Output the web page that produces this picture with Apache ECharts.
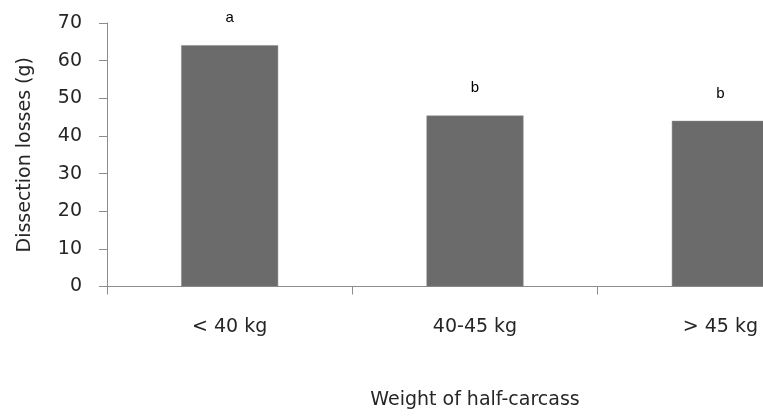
<!DOCTYPE html>
<html>
<head>
<meta charset="utf-8">
<script src="https://cdn.jsdelivr.net/npm/echarts@6/dist/echarts.min.js"></script>
<style>
html,body{margin:0;padding:0;background:#fff;overflow:hidden;width:763px;height:417px;}
#chart{width:850px;height:417px;}
</style>
</head>
<body>
<div id="chart"></div>
<script>
var categories = ['< 40 kg', '40-45 kg', '> 45 kg'];
var values = [64.1, 45.4, 44.0];
var letters = ['a', 'b', 'b'];
var yTicks = [0, 10, 20, 30, 40, 50, 60, 70];

var chart = echarts.init(document.getElementById('chart'), null, {renderer: 'canvas'});
var font = 'DejaVu Sans';
chart.setOption({
  animation: false,
  backgroundColor: '#ffffff',
  grid: {left: 107, top: 23, bottom: 130.5, right: 7, containLabel: false},
  xAxis: {
    type: 'category',
    data: categories,
    boundaryGap: true,
    axisLine: {show: true, lineStyle: {color: '#8c8c8c', width: 1}},
    axisTick: {show: true, length: 8, lineStyle: {color: '#8c8c8c'}},
    axisLabel: {margin: 31, fontSize: 19, fontFamily: font, color: '#262626'},
    name: 'Weight of half-carcass',
    nameLocation: 'middle',
    nameGap: 104,
    nameTextStyle: {fontSize: 19, fontFamily: font, color: '#262626'}
  },
  yAxis: {
    type: 'value',
    min: yTicks[0],
    max: yTicks[yTicks.length - 1],
    interval: yTicks[1] - yTicks[0],
    splitLine: {show: false},
    axisLine: {show: true, lineStyle: {color: '#8c8c8c', width: 1}},
    axisTick: {show: true, length: 8, lineStyle: {color: '#8c8c8c'}},
    axisLabel: {margin: 25, fontSize: 19, fontFamily: font, color: '#262626'},
    name: 'Dissection losses (g)',
    nameLocation: 'middle',
    nameGap: 72,
    nameRotate: 90,
    nameTextStyle: {fontSize: 19, fontFamily: font, color: '#262626'}
  },
  series: [{
    type: 'bar',
    data: values,
    barWidth: 97,
    itemStyle: {color: '#6b6b6b', borderColor: '#8a8a8a', borderWidth: 0.5},
    label: {
      show: true,
      position: 'top',
      distance: 20,
      fontSize: 15,
      fontFamily: 'Liberation Sans',
      color: '#000',
      formatter: function (p) { return letters[p.dataIndex]; }
    }
  }]
});
</script>
</body>
</html>
